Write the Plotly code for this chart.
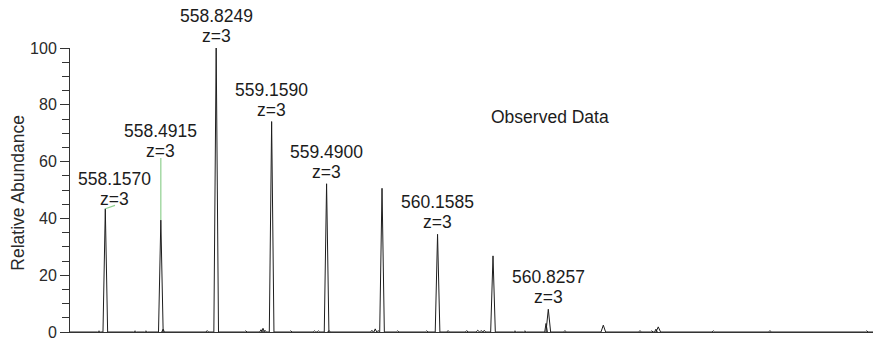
import plotly.graph_objects as go

# ---- data ----
peak_mz = [558.1570, 558.4915, 558.8249, 559.1590, 559.4900, 559.8240,
           560.1585, 560.4925, 560.8257, 561.1570, 561.4880]
peak_int = [43.4, 39.4, 100.0, 74.1, 52.2, 50.6, 34.4, 26.8, 8.0, 2.4, 1.8]

noise_mz = [558.119, 558.336, 558.402, 558.505, 558.771, 559.003, 559.095,
            559.107, 559.119, 559.274, 559.417, 559.441, 559.505, 559.763,
            559.783, 559.800, 559.918, 560.093, 560.222, 560.334, 560.400,
            560.420, 560.440, 560.625, 560.685, 560.812, 560.926, 561.378,
            561.449, 561.474, 561.820, 562.161, 562.744]
noise_int = [0.4, 0.4, 0.4, 1.0, 0.5, 0.4, 0.8, 1.3, 0.6, 0.4, 0.4, 0.4, 0.5,
             0.6, 1.1, 0.5, 0.4, 0.4, 0.5, 0.5, 0.6, 0.5, 0.6, 0.4, 0.4, 3.0,
             0.5, 0.5, 0.4, 1.0, 0.4, 0.5, 0.4]

label_mz = ["558.1570", "558.4915", "558.8249", "559.1590", "559.4900",
            "560.1585", "560.8257"]
label_z = ["z=3"] * 7
label_peak = [0, 1, 2, 3, 4, 6, 8]   # index into peak lists

x_range = [557.9443, 562.7817]
y_ticks = [0, 20, 40, 60, 80, 100]

# ---- layout helpers (positions / styles) ----
label_anchor = {0: (558.2154, 44.6), 1: (558.4915, 61.3)}
label_gap = {0: 6.7, 1: 6.6}
default_gap = 12.0
line_step = 20.0

# build a profile trace from centroid peaks (narrow triangles)
peaks = [(m, h, 0.014) for m, h in zip(peak_mz, peak_int)] + \
        [(m, h, 0.008) for m, h in zip(noise_mz, noise_int)]
peaks.sort()
xs = [x_range[0]]
ys = [0]
for m, h, hw in peaks:
    xs += [m - hw, m, m + hw]
    ys += [0, h, 0]
xs.append(x_range[1])
ys.append(0)

fig = go.Figure()
fig.add_trace(go.Scatter(x=xs, y=ys, mode="lines",
                         line=dict(color="#1e1e1e", width=1),
                         hoverinfo="skip", showlegend=False))

font_fam = "Liberation Sans, Arial, sans-serif"
txt_col = "#1c1c1c"
annotations = []
shapes = []
for i, (lm, lz, pi) in enumerate(zip(label_mz, label_z, label_peak)):
    px, py = peak_mz[pi], peak_int[pi]
    if i in label_anchor:
        ax, ay = label_anchor[i]
        shapes.append(dict(type="line", xref="x", yref="y", x0=px, y0=py,
                           x1=ax, y1=ay,
                           line=dict(color="#8fd08f", width=1.2)))
        tx = ax - 0.006 if i == 0 else ax
        gap = label_gap[i]
    else:
        tx, ay = px, py
        gap = default_gap
    for text, shift in ((lz, gap), (lm, gap + line_step)):
        annotations.append(dict(x=tx, y=ay, xref="x", yref="y", text=text,
                                showarrow=False, xanchor="center",
                                yanchor="middle", yshift=shift,
                                font=dict(family=font_fam, size=17.5,
                                          color=txt_col)))

plot_l, plot_r = 70, 4
plot_t, plot_b = 47.5, 10
plot_w = 877 - plot_l - plot_r
plot_h = 345 - plot_t - plot_b
annotations.append(dict(x=(550 - plot_l) / plot_w,
                        y=(345 - plot_b - 117) / plot_h,
                        xref="paper", yref="paper", text="Observed Data",
                        showarrow=False, xanchor="center", yanchor="middle",
                        font=dict(family=font_fam, size=17.5, color=txt_col)))
annotations.append(dict(x=(18 - plot_l) / plot_w,
                        y=(345 - plot_b - 194) / plot_h,
                        xref="paper", yref="paper", text="Relative Abundance",
                        showarrow=False, textangle=-90, xanchor="center",
                        yanchor="middle",
                        font=dict(family=font_fam, size=17.5, color="#2a2a2a")))

fig.update_layout(
    width=877, height=345,
    margin=dict(l=plot_l, r=plot_r, t=plot_t, b=plot_b, pad=0),
    paper_bgcolor="white", plot_bgcolor="white",
    showlegend=False,
    annotations=annotations, shapes=shapes,
    xaxis=dict(range=x_range, showline=True, linecolor="#333", linewidth=1,
               showgrid=False, zeroline=False, showticklabels=False,
               ticks=""),
    yaxis=dict(range=[0, 100], showline=True, linecolor="#333", linewidth=1,
               showgrid=False, zeroline=False, tickvals=y_ticks,
               ticks="outside", ticklen=9, tickcolor="#333", tickwidth=1,
               minor=dict(dtick=5, ticks="outside", ticklen=7,
                          tickcolor="#333", tickwidth=1, showgrid=False),
               tickfont=dict(family=font_fam, size=16, color="#2a2a2a")),
)

fig.write_html("out.html",
               config={"displayModeBar": False, "staticPlot": True},
               post_script="document.body.style.margin='0';"
                           "document.body.style.overflow='hidden';")
